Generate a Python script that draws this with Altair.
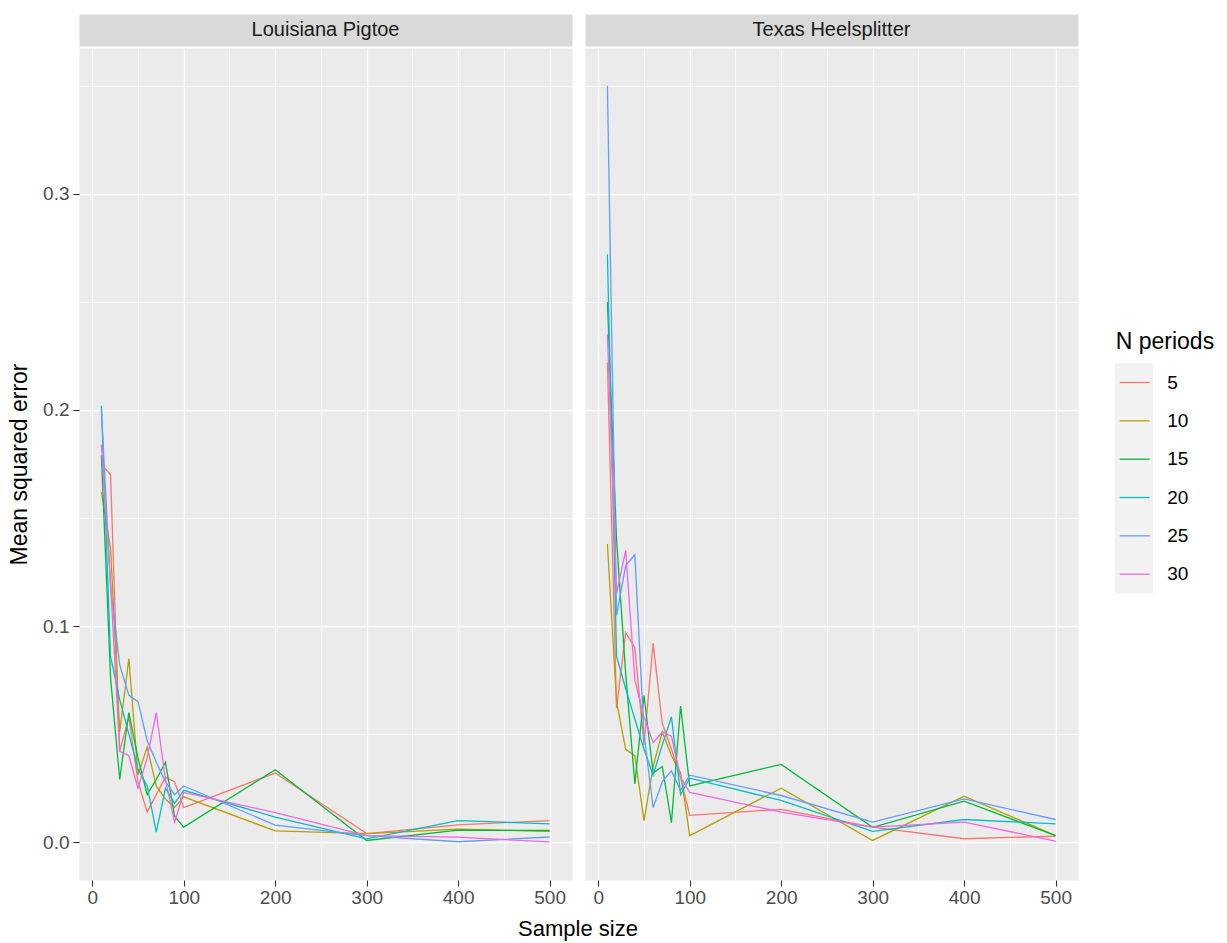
import altair as alt
import pandas as pd

# ---------------- data ----------------
sample_sizes = [10, 20, 30, 40, 50, 60, 70, 80, 90, 100, 200, 300, 400, 500]
n_periods = [5, 10, 15, 20, 25, 30]
species = ["Louisiana Pigtoe", "Texas Heelsplitter"]
x_ticks = [0, 100, 200, 300, 400, 500]
y_ticks = [0.0, 0.1, 0.2, 0.3]
palette = ["#F8766D", "#B79F00", "#00BA38", "#00BFC4", "#619CFF", "#F564E3"]

# Louisiana Pigtoe
lp_5 = [0.175, 0.170, 0.042, 0.058, 0.028, 0.014, 0.022, 0.030, 0.028, 0.016, 0.032, 0.004, 0.008, 0.010]
lp_10 = [0.162, 0.136, 0.051, 0.085, 0.031, 0.044, 0.026, 0.020, 0.016, 0.021, 0.0052, 0.004, 0.006, 0.005]
lp_15 = [0.179, 0.076, 0.029, 0.060, 0.039, 0.022, 0.029, 0.037, 0.012, 0.007, 0.0335, 0.0008, 0.0056, 0.0054]
lp_20 = [0.202, 0.086, 0.066, 0.050, 0.034, 0.026, 0.0046, 0.025, 0.018, 0.024, 0.0116, 0.0015, 0.010, 0.0085]
lp_25 = [0.200, 0.118, 0.082, 0.068, 0.065, 0.047, 0.037, 0.028, 0.022, 0.026, 0.0079, 0.003, 0.0002, 0.0024]
lp_30 = [0.184, 0.120, 0.042, 0.040, 0.025, 0.039, 0.060, 0.029, 0.0093, 0.023, 0.0137, 0.003, 0.0023, 0.0001]

# Texas Heelsplitter
th_5 = [0.222, 0.062, 0.097, 0.090, 0.045, 0.092, 0.055, 0.043, 0.030, 0.0124, 0.0152, 0.007, 0.0016, 0.0028]
th_10 = [0.138, 0.065, 0.043, 0.040, 0.010, 0.035, 0.051, 0.040, 0.032, 0.003, 0.025, 0.0008, 0.0213, 0.003]
th_15 = [0.250, 0.140, 0.078, 0.027, 0.068, 0.032, 0.035, 0.009, 0.063, 0.026, 0.036, 0.0069, 0.019, 0.003]
th_20 = [0.272, 0.086, 0.071, 0.057, 0.043, 0.031, 0.045, 0.058, 0.022, 0.0296, 0.0193, 0.005, 0.0105, 0.0085]
th_25 = [0.350, 0.105, 0.128, 0.133, 0.050, 0.016, 0.028, 0.033, 0.024, 0.031, 0.0216, 0.0093, 0.020, 0.0105]
th_30 = [0.235, 0.115, 0.135, 0.075, 0.058, 0.046, 0.051, 0.049, 0.030, 0.023, 0.0139, 0.007, 0.0093, 0.0005]

lp_series = [lp_5, lp_10, lp_15, lp_20, lp_25, lp_30]
th_series = [th_5, th_10, th_15, th_20, th_25, th_30]


def long_df(series):
    rows = []
    for n, vals in zip(n_periods, series):
        for s, v in zip(sample_sizes, vals):
            rows.append({"Sample size": s, "Mean squared error": v, "N periods": str(n)})
    return pd.DataFrame(rows)


# ---------------- layout constants ----------------
PW, PH, SH = 493, 832, 32
FONT = "Liberation Sans"
TICK_FS = 19

x_grid = sorted(set(x_ticks + [t + 50 for t in x_ticks[:-1]]))
y_grid = [round(v, 2) for v in sorted(set(y_ticks + [t + 0.05 for t in y_ticks]))]

x_major = "abs(datum.value % 100) < 0.001"
y_major = "abs(datum.value * 10 - round(datum.value * 10)) < 0.0001"

color_scale = alt.Scale(domain=[str(n) for n in n_periods], range=palette)
x_scale = alt.Scale(domain=[-14.5, 524.5], nice=False, zero=False)
y_scale = alt.Scale(domain=[-0.0175, 0.3675], nice=False, zero=False)


def x_axis():
    return alt.Axis(
        values=x_grid,
        labelExpr=f"{x_major} ? format(datum.value, 'd') : ''",
        tickOpacity={"condition": {"test": x_major, "value": 1}, "value": 0},
        gridWidth={"condition": {"test": x_major, "value": 1.3}, "value": 0.7},
        gridColor="white",
        gridOpacity=1,
        domain=False,
        tickColor="#333333",
        tickSize=6,
        tickWidth=1.1,
        labelColor="#4D4D4D",
        labelFontSize=TICK_FS,
        labelPadding=2,
        labelOverlap=False,
        labelFont=FONT,
        title=None,
    )


def y_axis(show):
    kw = dict(
        values=y_grid,
        gridWidth={"condition": {"test": y_major, "value": 1.3}, "value": 0.7},
        gridColor="white",
        gridOpacity=1,
        domain=False,
    )
    if show:
        kw.update(
            labelExpr=f"{y_major} ? format(datum.value, '.1f') : ''",
            tickOpacity={"condition": {"test": y_major, "value": 1}, "value": 0},
            tickColor="#333333",
            tickSize=6,
            tickWidth=1.1,
            labelColor="#4D4D4D",
            labelFontSize=TICK_FS,
            labelPadding=4,
            labelOverlap=False,
            labelFont=FONT,
            title="Mean squared error",
            titleFontSize=23,
            titleColor="black",
            titleFontWeight="normal",
            titlePadding=11,
            titleFont=FONT,
        )
    else:
        kw.update(labels=False, ticks=False, title=None)
    return alt.Axis(**kw)


def strip(name):
    return alt.Chart(pd.DataFrame({"panel": [name]})).mark_text(
        fontSize=20, color="#1A1A1A", font=FONT
    ).encode(
        x=alt.value(PW / 2), y=alt.value(SH / 2), text="panel:N"
    ).properties(width=PW, height=SH,
                 view=alt.ViewBackground(fill="#D9D9D9", stroke="transparent"))


def panel(series, first):
    return alt.Chart(long_df(series)).mark_line(strokeWidth=1.3, clip=True).encode(
        x=alt.X("Sample size:Q", scale=x_scale, axis=x_axis()),
        y=alt.Y("Mean squared error:Q", scale=y_scale, axis=y_axis(first)),
        color=alt.Color("N periods:N", scale=color_scale, legend=None),
    ).properties(width=PW, height=PH,
                 view=alt.ViewBackground(fill="#EBEBEB", stroke="transparent"))


left = alt.vconcat(strip(species[0]), panel(lp_series, True), spacing=0)
right = alt.vconcat(strip(species[1]), panel(th_series, False), spacing=0)

# ---------------- custom legend (ggplot style) ----------------
leg_df = pd.DataFrame({"N periods": [str(n) for n in n_periods]})
leg_y = alt.Y("N periods:N",
              scale=alt.Scale(type="point", domain=[str(n) for n in n_periods],
                              range=[368.5, 560.2], padding=0),
              axis=None)

leg_box = alt.Chart(pd.DataFrame({"k": [0]})).mark_rect(color="#F2F2F2").encode(
    x=alt.value(23.7), x2=alt.value(62), y=alt.value(349.3), y2=alt.value(579.3)
)
leg_keys = alt.Chart(leg_df).mark_rule(strokeWidth=1.3).encode(
    x=alt.value(28.7), x2=alt.value(58.7), y=leg_y,
    color=alt.Color("N periods:N", scale=color_scale, legend=None),
)
leg_labels = alt.Chart(leg_df).mark_text(
    align="left", baseline="middle", fontSize=19, color="black", font=FONT
).encode(x=alt.value(76.3), y=leg_y, text="N periods:N")
leg_title = alt.Chart(pd.DataFrame({"t": ["N periods"]})).mark_text(
    align="left", baseline="middle", fontSize=23, color="black", font=FONT
).encode(x=alt.value(24.7), y=alt.value(327.7), text="t:N")

legend = alt.layer(leg_box, leg_keys, leg_labels, leg_title).properties(
    width=120, height=SH + PH,
    view=alt.ViewBackground(fill="white", stroke="transparent"),
)

top_row = alt.hconcat(left, right, legend, spacing=11)

# shared x-axis title, centred under both panels (ggplot style)
x_title = alt.Chart(pd.DataFrame({"t": ["Sample size"]})).mark_text(
    fontSize=22, color="black", font=FONT, baseline="middle"
).encode(x=alt.value(499), y=alt.value(12), text="t:N").properties(
    width=600, height=24,
    view=alt.ViewBackground(fill="white", stroke="transparent"),
)

chart = alt.vconcat(top_row, x_title, spacing=8).properties(
    padding={"left": 8, "top": 13, "right": 0, "bottom": 0},
    background="white",
).configure_view(strokeWidth=0).configure(font=FONT)

chart.save("out.html", embed_options={"renderer": "svg", "actions": False})
